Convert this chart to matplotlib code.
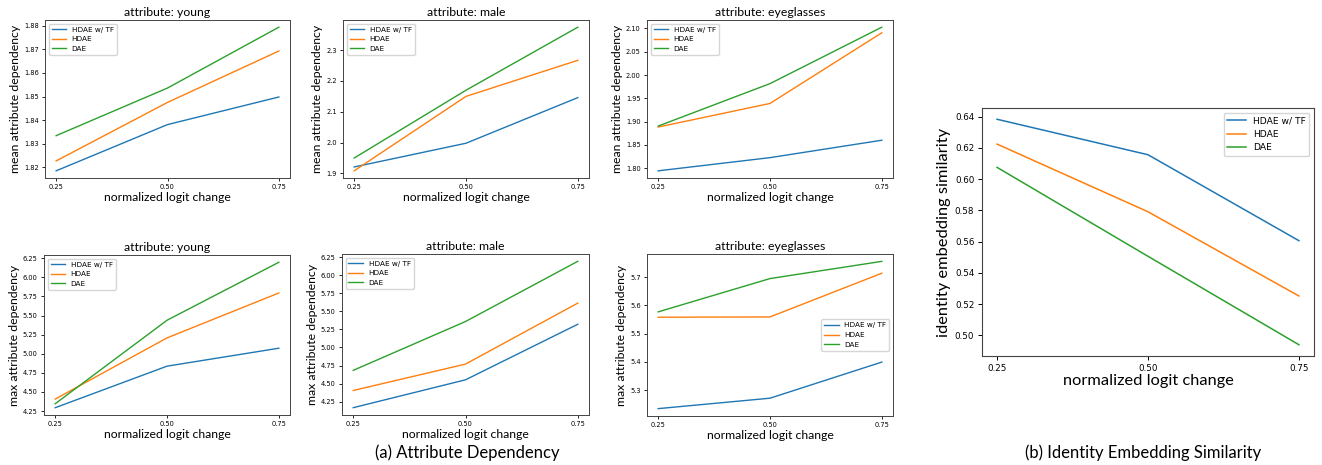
import matplotlib
matplotlib.use("Agg")
import matplotlib.pyplot as plt

W, H = 1322, 465

x = [0.25, 0.50, 0.75]
methods = ["HDAE w/ TF", "HDAE", "DAE"]
colors = ["#1f77b4", "#ff7f0e", "#2ca02c"]

mean_young = [[1.8185, 1.8381, 1.8498], [1.8227, 1.8475, 1.8693], [1.8334, 1.8536, 1.8794]]
mean_male = [[1.921, 1.998, 2.146], [1.9085, 2.150, 2.267], [1.950, 2.170, 2.3745]]
mean_eyeglasses = [[1.7943, 1.8226, 1.860], [1.8883, 1.939, 2.0908], [1.8904, 1.9816, 2.1028]]
max_young = [[4.294, 4.838, 5.073], [4.407, 5.208, 5.796], [4.346, 5.439, 6.198]]
max_male = [[4.166, 4.552, 5.322], [4.404, 4.770, 5.615], [4.683, 5.360, 6.194]]
max_eyeglasses = [[5.234, 5.271, 5.399], [5.558, 5.559, 5.714], [5.577, 5.695, 5.756]]
identity_sim = [[0.6383, 0.6156, 0.5606], [0.6224, 0.5791, 0.5252], [0.6075, 0.5506, 0.4940]]

label_font = "Lato"


def rect(x0, y0, x1, y1):
    return [x0 / W, 1 - y1 / H, (x1 - x0) / W, (y1 - y0) / H]


fig = plt.figure(figsize=(W / 100, H / 100), dpi=100)

small = [
    ((45, 20, 290, 178), mean_young, "young", "mean", "upper left"),
    ((343, 20, 589, 178), mean_male, "male", "mean", "upper left"),
    ((647, 20, 893, 178), mean_eyeglasses, "eyeglasses", "mean", "upper left"),
    ((44, 255, 290, 415), max_young, "young", "max", "upper left"),
    ((342, 254, 589, 415), max_male, "male", "max", "upper left"),
    ((647, 254, 893, 416), max_eyeglasses, "eyeglasses", "max", "center right"),
]

for box, data, attr, kind, loc in small:
    ax = fig.add_axes(rect(*box))
    for vals, name, c in zip(data, methods, colors):
        ax.plot(x, vals, color=c, lw=1.0, label=name)
    ax.set_xticks(x)
    ax.set_xticklabels(["0.25", "0.50", "0.75"])
    ax.tick_params(labelsize=4.8, length=2.5, width=0.6, pad=2)
    ax.set_title("attribute: " + attr, family=label_font, fontsize=8.8, pad=3)
    ax.set_xlabel("normalized logit change", family=label_font, fontsize=8.8, labelpad=1)
    ax.set_ylabel(kind + " attribute dependency", family=label_font, fontsize=8.8, labelpad=2)
    for s in ax.spines.values():
        s.set_linewidth(0.7)
        s.set_color("#444444")
    ax.legend(loc=loc, fontsize=5.2, handlelength=2.0, borderpad=0.4, labelspacing=0.5)

ax = fig.add_axes(rect(982, 108, 1314, 356))
for vals, name, c in zip(identity_sim, methods, colors):
    ax.plot(x, vals, color=c, lw=1.1, label=name)
ax.set_xticks(x)
ax.set_xticklabels(["0.25", "0.50", "0.75"])
ax.tick_params(labelsize=6.3, length=3, width=0.7, pad=2.5)
ax.set_xlabel("normalized logit change", family=label_font, fontsize=11.8, labelpad=1)
ax.set_ylabel("identity embedding similarity", family=label_font, fontsize=11.8, labelpad=3)
for s in ax.spines.values():
    s.set_linewidth(0.8)
    s.set_color("#444444")
ax.legend(loc="upper right", fontsize=6.6, handlelength=2.0, borderpad=0.4, labelspacing=0.5)

fig.text(467 / W, 1 - 453 / H, "(a) Attribute Dependency", family=label_font,
         fontsize=12, ha="center", va="center")
fig.text(1143 / W, 1 - 453 / H, "(b) Identity Embedding Similarity", family=label_font,
         fontsize=12, ha="center", va="center")

fig.savefig("out.png", dpi=100)
